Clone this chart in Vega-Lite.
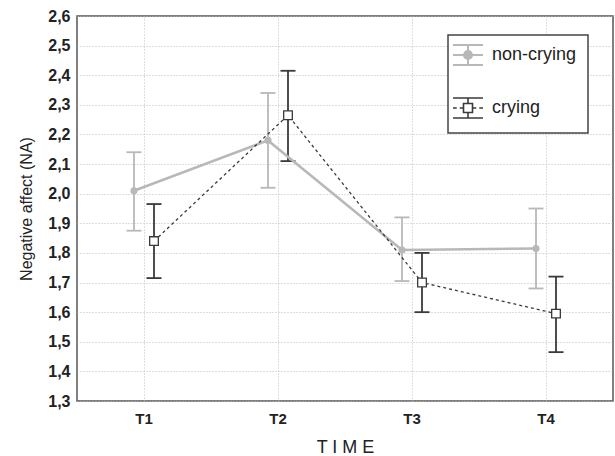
{
  "$schema": "https://vega.github.io/schema/vega-lite/v6.json",
  "width": 536,
  "height": 385,
  "autosize": {"type": "none"},
  "padding": {"left": 77, "top": 16, "right": 2, "bottom": 55},
  "background": "white",
  "config": {
    "view": {"stroke": "#555555", "strokeWidth": 1.5},
    "font": "Liberation Sans"
  },
  "data": {
    "values": [
      {"group": "non-crying", "time": "T1", "mean": 2.01, "lo": 1.875, "hi": 2.14},
      {"group": "non-crying", "time": "T2", "mean": 2.18, "lo": 2.02, "hi": 2.34},
      {"group": "non-crying", "time": "T3", "mean": 1.81, "lo": 1.705, "hi": 1.92},
      {"group": "non-crying", "time": "T4", "mean": 1.815, "lo": 1.68, "hi": 1.95},
      {"group": "crying", "time": "T1", "mean": 1.84, "lo": 1.715, "hi": 1.965},
      {"group": "crying", "time": "T2", "mean": 2.265, "lo": 2.11, "hi": 2.415},
      {"group": "crying", "time": "T3", "mean": 1.7, "lo": 1.6, "hi": 1.8},
      {"group": "crying", "time": "T4", "mean": 1.595, "lo": 1.465, "hi": 1.72}
    ]
  },
  "encoding": {
    "x": {
      "field": "time",
      "type": "nominal",
      "scale": {"type": "band", "paddingInner": 0, "paddingOuter": 0},
      "axis": {
        "title": "T I M E",
        "bandPosition": 0.5,
        "grid": true,
        "gridDash": [1, 2],
        "gridColor": "#bdbdbd",
        "ticks": false,
        "domain": false,
        "labelAngle": 0,
        "labelFontSize": 15,
        "labelFontWeight": "bold",
        "labelColor": "#222222",
        "labelPadding": 10,
        "titleFontSize": 18,
        "titleFontWeight": "normal",
        "titleColor": "#222222",
        "titlePadding": 12
      }
    },
    "xOffset": {
      "field": "group",
      "type": "nominal",
      "scale": {"type": "point", "domain": ["non-crying", "crying"], "range": [57, 77], "padding": 0}
    },
    "color": {
      "field": "group",
      "type": "nominal",
      "scale": {"domain": ["non-crying", "crying"], "range": ["#b8b8b8", "#3a3a3a"]},
      "legend": {
        "orient": "none",
        "legendX": 371,
        "legendY": 19,
        "title": null,
        "padding": 11,
        "strokeColor": "#444444",
        "fillColor": "white",
        "symbolSize": 900,
        "rowPadding": 24,
        "labelFontSize": 18,
        "labelColor": "#222222",
        "labelOffset": 15,
        "encode": {
          "legend": {"update": {"strokeWidth": {"value": 1.5}}},
          "symbols": {
            "update": {
              "shape": {"signal": "datum.value === 'crying' ? 'M-1,-0.67H1M-1,0.67H1M0,-0.67V-0.3M0,0.3V0.67M-1,0H-0.75M-0.55,0H-0.35M0.35,0H0.55M0.75,0H1M-0.3,-0.3H0.3V0.3H-0.3ZM-0.3,-0.3V0.3H0.3V-0.3Z' : 'M-1,-0.67H1M-1,0H1M-1,0.67H1M0,-0.67V-0.27M0,0.27V0.67M0.27,0A0.27,0.27 0 1,1 -0.27,0A0.27,0.27 0 1,1 0.27,0Z'"},
              "fill": {"signal": "datum.value === 'crying' ? 'white' : '#b8b8b8'"},
              "stroke": {"signal": "datum.value === 'crying' ? '#3a3a3a' : '#b8b8b8'"},
              "strokeWidth": {"signal": "datum.value === 'crying' ? 1.6 : 2"},
              "strokeDash": {"value": []},
              "opacity": {"value": 1},
              "fillOpacity": {"value": 1}
            }
          }
        }
      }
    }
  },
  "layer": [
    {
      "mark": {"type": "rule", "strokeWidth": 1.8},
      "encoding": {
        "y": {
          "field": "lo",
          "type": "quantitative",
          "scale": {"domain": [1.3, 2.6], "nice": false, "zero": false},
          "axis": {
            "title": "Negative affect (NA)",
            "values": [1.3, 1.4, 1.5, 1.6, 1.7, 1.8, 1.9, 2.0, 2.1, 2.2, 2.3, 2.4, 2.5, 2.6],
            "tickCount": 20,
            "labelExpr": "replace(format(datum.value, '.1f'), '.', ',')",
            "labelOverlap": false,
            "labelFlush": false,
            "grid": true,
            "gridDash": [1, 2],
            "gridColor": "#bdbdbd",
            "ticks": false,
            "domain": false,
            "labelFontSize": 16,
            "labelFontWeight": "bold",
            "labelColor": "#222222",
            "labelPadding": 7,
            "titleFontSize": 16,
            "titleFontWeight": "normal",
            "titleColor": "#222222",
            "titlePadding": 13
          }
        },
        "y2": {"field": "hi"}
      }
    },
    {
      "mark": {"type": "tick", "size": 15, "thickness": 1.8, "opacity": 1},
      "encoding": {"y": {"field": "hi", "type": "quantitative"}}
    },
    {
      "mark": {"type": "tick", "size": 15, "thickness": 1.8, "opacity": 1},
      "encoding": {"y": {"field": "lo", "type": "quantitative"}}
    },
    {
      "transform": [{"filter": "datum.group === 'non-crying'"}],
      "mark": {"type": "line", "strokeWidth": 2.6},
      "encoding": {"y": {"field": "mean", "type": "quantitative"}}
    },
    {
      "transform": [{"filter": "datum.group === 'crying'"}],
      "mark": {"type": "line", "strokeWidth": 1.3, "strokeDash": [3, 3]},
      "encoding": {"y": {"field": "mean", "type": "quantitative"}}
    },
    {
      "transform": [{"filter": "datum.group === 'non-crying'"}],
      "mark": {"type": "point", "shape": "circle", "filled": true, "size": 50, "opacity": 1},
      "encoding": {"y": {"field": "mean", "type": "quantitative"}}
    },
    {
      "transform": [{"filter": "datum.group === 'crying'"}],
      "mark": {"type": "point", "shape": "square", "filled": false, "fill": "white", "fillOpacity": 1, "size": 75, "strokeWidth": 1.3, "opacity": 1},
      "encoding": {"y": {"field": "mean", "type": "quantitative"}}
    }
  ]
}
